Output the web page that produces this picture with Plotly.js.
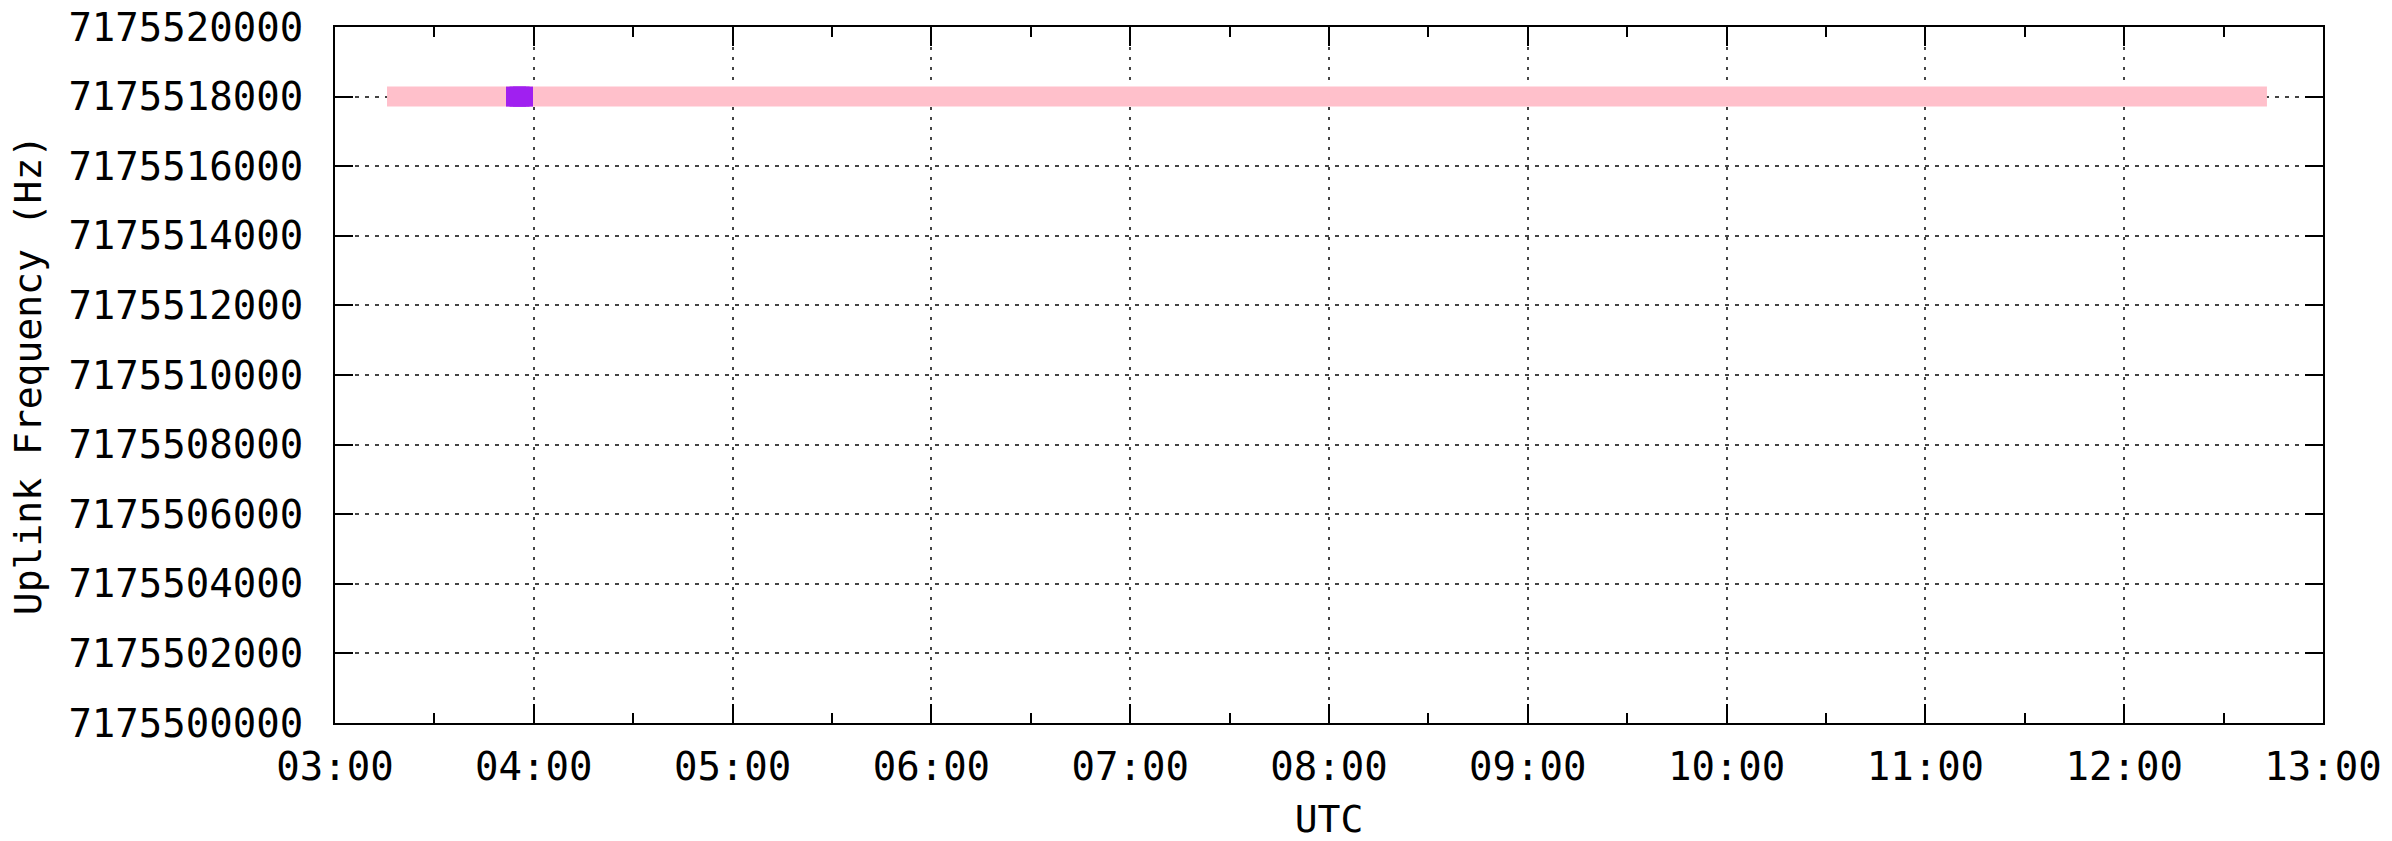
<!DOCTYPE html>
<html>
<head>
<meta charset="utf-8">
<script src="https://cdn.plot.ly/plotly-3.0.1.min.js"></script>
<style>
  html, body { margin: 0; padding: 0; background: #ffffff; }
  #chart { width: 2392px; height: 841px; }
</style>
</head>
<body>
<div id="chart"></div>
<script>
// Uplink frequency track (pink) and a short second segment (purple)
const pinkTimes = ['2000-01-01 03:15:42', '2000-01-01 12:43:05'];
const pinkFreq  = [7175518000, 7175518000];

const purpleTimes = ['2000-01-01 03:54:38', '2000-01-01 03:55:42', '2000-01-01 03:56:45'];
const purpleFreq  = [7175518000, 7175518000, 7175518000];

const xRange = ['2000-01-01 03:00', '2000-01-01 13:00'];
const yRange = [7175500000, 7175520000];

const xTitle = 'UTC';
const yTitle = 'Uplink Frequency (Hz)';

const FONT = '"DejaVu Sans Mono", "Liberation Mono", monospace';

const traces = [
  {
    x: pinkTimes, y: pinkFreq, type: 'scatter', mode: 'lines',
    line: { color: '#ffc0cb', width: 20 },
    hoverinfo: 'skip', showlegend: false
  },
  {
    x: purpleTimes, y: purpleFreq, type: 'scatter', mode: 'markers',
    marker: { color: '#a020f0', size: 20, symbol: 'square' },
    hoverinfo: 'skip', showlegend: false
  }
];

const layout = {
  width: 2392, height: 841,
  paper_bgcolor: '#ffffff', plot_bgcolor: '#ffffff',
  margin: { l: 335, r: 69, t: 27, b: 118, autoexpand: false },
  showlegend: false,
  font: { family: FONT, size: 39, color: '#000000' },
  xaxis: {
    type: 'date', range: xRange, autorange: false,
    dtick: 3600000, tick0: '2000-01-01 03:00', tickformat: '%H:%M',
    ticks: 'inside', ticklen: 19, tickwidth: 2, tickcolor: '#000',
    ticklabelstandoff: 8,
    minor: { dtick: 1800000, ticks: 'inside', ticklen: 10, tickwidth: 2, tickcolor: '#000', showgrid: false },
    showline: true, linecolor: '#000', linewidth: 2, mirror: 'ticks',
    showgrid: true, gridcolor: '#444444', gridwidth: 2, griddash: '3px,7px',
    zeroline: false,
    tickfont: { family: FONT, size: 39, color: '#000' },
    title: { text: xTitle, font: { family: FONT, size: 38, color: '#000' }, standoff: 36 },
    automargin: false, fixedrange: true
  },
  yaxis: {
    range: yRange, autorange: false,
    dtick: 2000, tick0: 7175500000, tickformat: 'd', exponentformat: 'none',
    ticks: 'inside', ticklen: 18, tickwidth: 2, tickcolor: '#000',
    ticklabelstandoff: 22,
    showline: true, linecolor: '#000', linewidth: 2, mirror: 'ticks',
    showgrid: true, gridcolor: '#444444', gridwidth: 2, griddash: '4px,6px',
    zeroline: false,
    tickfont: { family: FONT, size: 39, color: '#000' },
    title: { text: yTitle, font: { family: FONT, size: 38, color: '#000' }, standoff: 15 },
    automargin: false, fixedrange: true
  }
};

Plotly.newPlot('chart', traces, layout, { staticPlot: true, displayModeBar: false });
</script>
</body>
</html>
